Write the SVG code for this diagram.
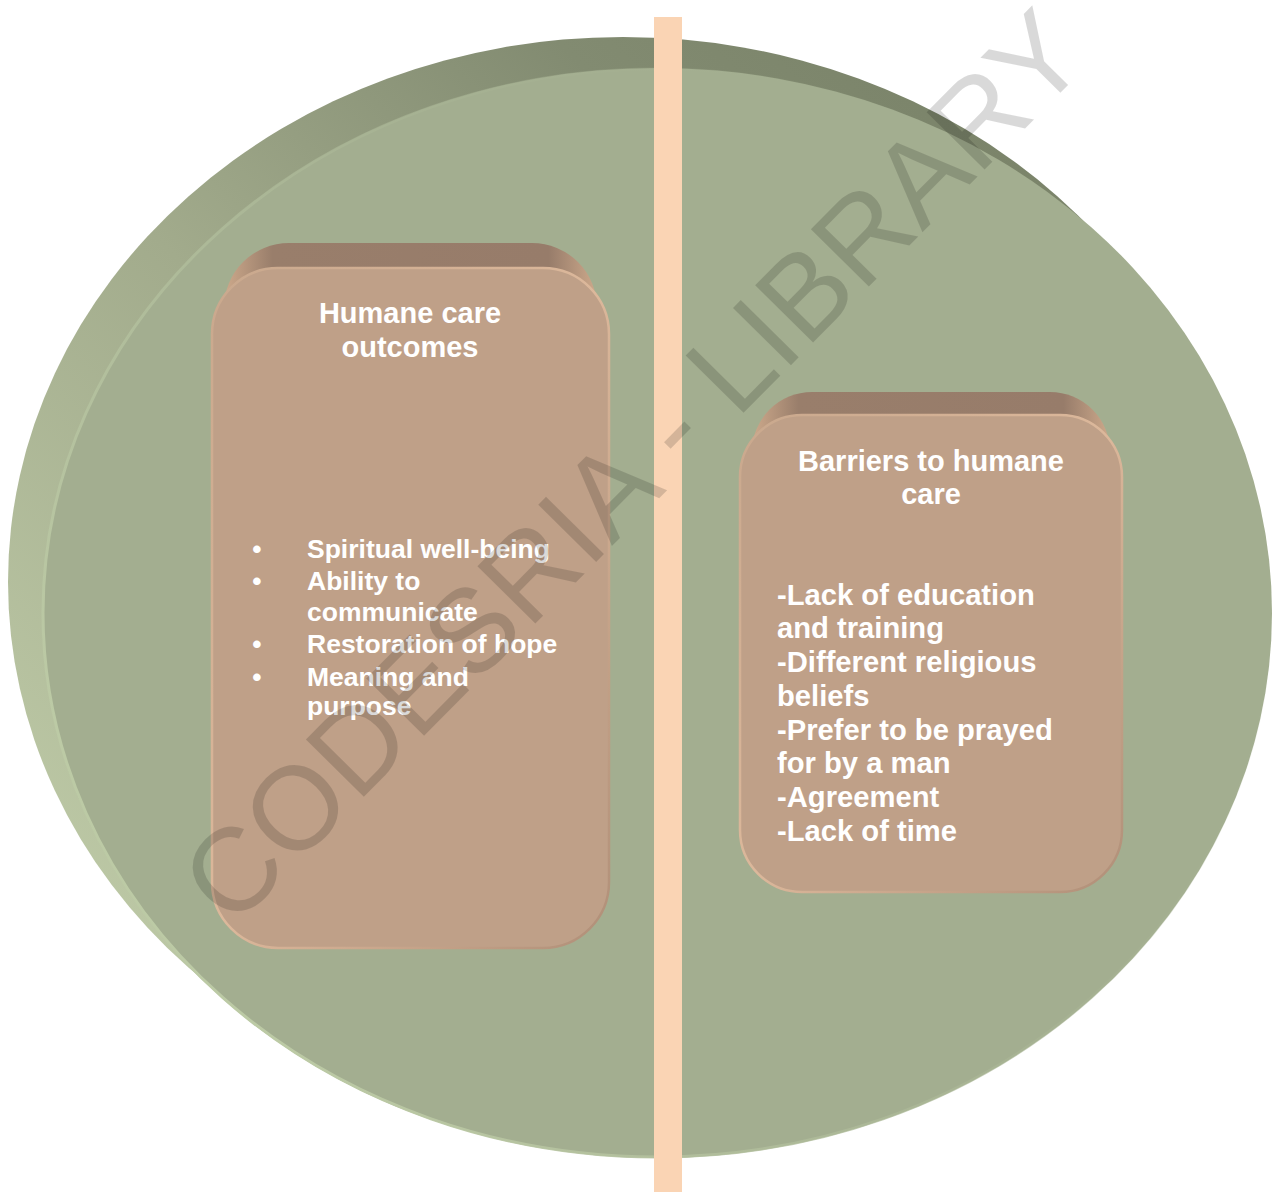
<svg xmlns="http://www.w3.org/2000/svg" width="1272" height="1192" viewBox="0 0 1272 1192">
<defs>
<linearGradient id="bevel" gradientUnits="userSpaceOnUse" x1="60" y1="900" x2="900" y2="40">
<stop offset="0" stop-color="#bdc9a6"/>
<stop offset="0.45" stop-color="#a2ab8c"/>
<stop offset="0.8" stop-color="#828b71"/>
<stop offset="1" stop-color="#7b846a"/>
</linearGradient>
<linearGradient id="rim" gradientUnits="userSpaceOnUse" x1="40" y1="700" x2="900" y2="100">
<stop offset="0" stop-color="#bccaa5" stop-opacity="1"/>
<stop offset="0.6" stop-color="#a9b595" stop-opacity="0.6"/>
<stop offset="1" stop-color="#a3ae90" stop-opacity="0"/>
</linearGradient>
<linearGradient id="topb" x1="0" y1="0" x2="1" y2="0">
<stop offset="0" stop-color="#cda98b"/>
<stop offset="0.13" stop-color="#997e6b"/>
<stop offset="0.87" stop-color="#977c6a"/>
<stop offset="1" stop-color="#cda98b"/>
</linearGradient>
<linearGradient id="boxedge" x1="0" y1="0" x2="1" y2="1">
<stop offset="0" stop-color="#c9a88d"/>
<stop offset="0.5" stop-color="#dcb89b"/>
<stop offset="1" stop-color="#b08f78"/>
</linearGradient>
</defs>
<style>
.face{fill:#bfa088;stroke:url(#boxedge);stroke-width:2.5}
.back{fill:url(#topb)}
.h{font-family:"Liberation Sans",Arial,sans-serif;font-weight:bold;fill:#ffffff;font-size:29px;text-anchor:middle}
.l{font-family:"Liberation Sans",Arial,sans-serif;font-weight:bold;fill:#ffffff;font-size:26.5px}
.r{font-family:"Liberation Sans",Arial,sans-serif;font-weight:bold;fill:#ffffff;font-size:29.2px}
.wm{font-family:"Liberation Sans",Arial,sans-serif;font-size:118.5px;fill:#000000;fill-opacity:0.15}
</style>
<rect width="1272" height="1192" fill="#ffffff"/>
<g id="disc">
<ellipse cx="623" cy="582" rx="615" ry="545" fill="url(#bevel)"/>
<ellipse cx="657" cy="613" rx="615" ry="545" fill="#a3ae90"/>
<ellipse cx="657" cy="613" rx="614" ry="544" fill="none" stroke="url(#rim)" stroke-width="3"/>
</g>
<g id="divider">
<rect x="654" y="17" width="28" height="1175" fill="#fad4b4"/>
</g>
<g id="outcomes">
<rect class="back" x="224" y="243" width="373" height="600" rx="65"/>
<rect class="face" x="212" y="268" width="397" height="680" rx="66"/>
<text class="h" x="410" y="323">Humane care</text>
<text class="h" x="410" y="357">outcomes</text>
<text class="l" x="257" y="558" text-anchor="middle">•</text>
<text class="l" x="307" y="558">Spiritual well-being</text>
<text class="l" x="257" y="590" text-anchor="middle">•</text>
<text class="l" x="307" y="590">Ability to</text>
<text class="l" x="307" y="621">communicate</text>
<text class="l" x="257" y="653" text-anchor="middle">•</text>
<text class="l" x="307" y="653">Restoration of hope</text>
<text class="l" x="257" y="686" text-anchor="middle">•</text>
<text class="l" x="307" y="686">Meaning and</text>
<text class="l" x="307" y="715">purpose</text>
</g>
<g id="barriers">
<rect class="back" x="752" y="392" width="358" height="400" rx="60"/>
<rect class="face" x="740" y="415" width="382" height="477" rx="62"/>
<text class="h" x="931" y="471">Barriers to humane</text>
<text class="h" x="931" y="504">care</text>
<text class="r" x="777" y="605">-Lack of education</text>
<text class="r" x="777" y="638">and training</text>
<text class="r" x="777" y="672">-Different religious</text>
<text class="r" x="777" y="706">beliefs</text>
<text class="r" x="777" y="740">-Prefer to be prayed</text>
<text class="r" x="777" y="773">for by a man</text>
<text class="r" x="777" y="807">-Agreement</text>
<text class="r" x="777" y="841">-Lack of time</text>
</g>
<g id="connectors"/>
<g id="watermark">
<text class="wm" transform="translate(232,930) rotate(-45.3)">CODESRIA - LIBRARY</text>
</g>
</svg>
